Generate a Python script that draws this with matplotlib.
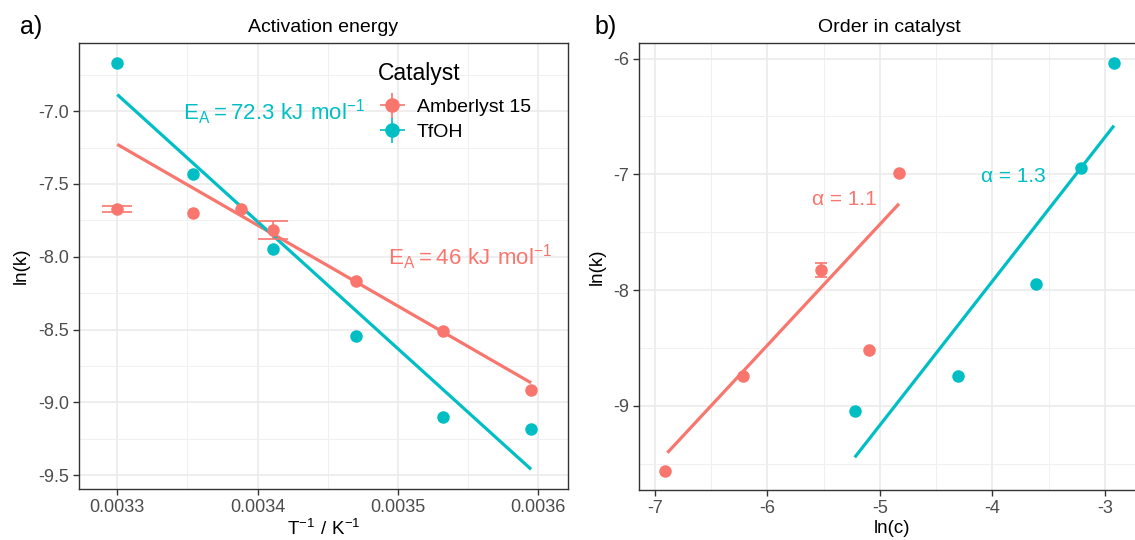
import matplotlib
matplotlib.use("Agg")
import matplotlib.pyplot as plt
from matplotlib.lines import Line2D
from matplotlib.ticker import FixedLocator, MultipleLocator
import numpy as np

plt.rcParams['font.family'] = ['Liberation Sans', 'DejaVu Sans']
plt.rcParams['axes.unicode_minus'] = False

# ---------------- data ----------------
# Panel a: activation energy
invT_amb = [0.0033, 0.003354, 0.003388, 0.003411, 0.00347, 0.003532, 0.003595]
lnk_amb = [-7.671, -7.696, -7.673, -7.817, -8.167, -8.512, -8.917]
err_amb = [0.018, 0.0, 0.0, 0.06, 0.0, 0.0, 0.0]
invT_tf = [0.0033, 0.003354, 0.003411, 0.00347, 0.003532, 0.003595]
lnk_tf = [-6.671, -7.429, -7.943, -8.542, -9.098, -9.180]
fit_invT = [0.0033, 0.003595]
fit_lnk_amb = [-7.228, -8.865]
fit_lnk_tf = [-6.886, -9.459]
ea_labels = ["72.3", "46"]

# Panel b: order in catalyst
lnc_amb = [-6.908, -6.215, -5.521, -5.10, -4.828]
lnk2_amb = [-9.566, -8.741, -7.825, -8.517, -6.986]
err2_amb = [0.0, 0.0, 0.06, 0.0, 0.0]
lnc_tf = [-5.223, -4.306, -3.612, -3.210, -2.921]
lnk2_tf = [-9.043, -8.739, -7.945, -6.942, -6.037]
fit_lnc_amb = [-6.887, -4.830]
fit_lnk2_amb = [-9.405, -7.254]
fit_lnc_tf = [-5.223, -2.921]
fit_lnk2_tf = [-9.445, -6.579]
alpha_labels = ["1.1", "1.3"]

catalysts = ["Amberlyst 15", "TfOH"]
colors = ["#F8766D", "#00BFC4"]

xticks_a = [0.0033, 0.0034, 0.0035, 0.0036]
xticklabels_a = ["0.0033", "0.0034", "0.0035", "0.0036"]
yticks_a = [-7.0, -7.5, -8.0, -8.5, -9.0, -9.5]
yticklabels_a = ["-7.0", "-7.5", "-8.0", "-8.5", "-9.0", "-9.5"]
xticks_b = [-7, -6, -5, -4, -3]
xticklabels_b = ["-7", "-6", "-5", "-4", "-3"]
yticks_b = [-6, -7, -8, -9]
yticklabels_b = ["-6", "-7", "-8", "-9"]

# ---------------- figure ----------------
W, H = 1135, 540
fig = plt.figure(figsize=(W / 100, H / 100), dpi=100)

def px_axes(l, t, r, b):
    return fig.add_axes([l / W, 1 - b / H, (r - l) / W, (b - t) / H])

ax1 = px_axes(79, 43, 568, 489)
ax2 = px_axes(639, 43, 1140, 490)

def style(ax):
    ax.set_facecolor("white")
    for s in ax.spines.values():
        s.set_color("#333333")
        s.set_linewidth(1.0)
    ax.grid(which="major", color="#EBEBEB", lw=1.2, zorder=0)
    ax.grid(which="minor", color="#F0F0F0", lw=0.7, zorder=0)
    ax.set_axisbelow(True)
    ax.tick_params(which="major", length=4, width=1.0, color="#333333",
                   labelcolor="#4D4D4D", labelsize=13, pad=3)
    ax.tick_params(which="minor", length=0)

style(ax1)
style(ax2)

ms = 9
lw = 2.3

# Panel a
mask = np.array(err_amb) > 0
ax1.errorbar(np.array(invT_amb)[mask], np.array(lnk_amb)[mask], yerr=np.array(err_amb)[mask],
             fmt="none", ecolor=colors[0], elinewidth=1.2, capsize=10.5, capthick=1.2, zorder=3)
ax1.plot(fit_invT, fit_lnk_amb, color=colors[0], lw=lw, zorder=2, solid_capstyle="butt")
ax1.plot(fit_invT, fit_lnk_tf, color=colors[1], lw=lw, zorder=2, solid_capstyle="butt")
ax1.plot(invT_amb, lnk_amb, "o", color=colors[0], ms=ms, mew=0, zorder=4)
ax1.plot(invT_tf, lnk_tf, "o", color=colors[1], ms=ms, mew=0, zorder=4)

ax1.set_xlim(0.0032727, 0.0036213)
ax1.set_ylim(-9.594, -6.532)
ax1.xaxis.set_major_locator(FixedLocator(xticks_a))
ax1.set_xticklabels(xticklabels_a)
ax1.yaxis.set_major_locator(FixedLocator(yticks_a))
ax1.set_yticklabels(yticklabels_a)
ax1.xaxis.set_minor_locator(MultipleLocator(0.00005))
ax1.yaxis.set_minor_locator(MultipleLocator(0.25))

ax1.text(0.0033467, -7.06, r"$\mathregular{E_A = " + ea_labels[0] + r"\ kJ\ mol^{-1}}$",
         color=colors[1], fontsize=16, ha="left", va="baseline", zorder=5)
ax1.text(0.003493, -8.057, r"$\mathregular{E_A = " + ea_labels[1] + r"\ kJ\ mol^{-1}}$",
         color=colors[0], fontsize=16, ha="left", va="baseline", zorder=5)

ax1.set_title("Activation energy", fontsize=14, color="black", pad=8)
ax1.set_xlabel(r"$\mathregular{T^{-1}\ /\ K^{-1}}$", fontsize=13.5)
ax1.set_ylabel("ln(k)", fontsize=13.5)
ax1.xaxis.set_label_coords(0.5, -0.068)
ax1.yaxis.set_label_coords(-0.10, 0.5)

# legend
handles = []
for c in colors:
    h_cross = Line2D([], [], marker="+", ms=18, mew=1.2, color=c, ls="none")
    h_pt = Line2D([], [], marker="o", ms=ms + 1.5, mew=0, color=c, ls="none")
    handles.append((h_cross, h_pt))
leg = ax1.legend(handles, catalysts, title="Catalyst", loc="upper left",
                 bbox_to_anchor=((368 - 79) / 489, 1 - (52 - 43) / 446),
                 frameon=False, fontsize=14, title_fontsize=16.5, alignment="left",
                 borderpad=0, handlelength=1.45, handletextpad=0.55, labelspacing=0.38)
leg._legend_box.sep = 10

# Panel b
mask2 = np.array(err2_amb) > 0
ax2.errorbar(np.array(lnc_amb)[mask2], np.array(lnk2_amb)[mask2], yerr=np.array(err2_amb)[mask2],
             fmt="none", ecolor=colors[0], elinewidth=1.2, capsize=4.5, capthick=1.2, zorder=3)
ax2.plot(fit_lnc_amb, fit_lnk2_amb, color=colors[0], lw=lw, zorder=2, solid_capstyle="butt")
ax2.plot(fit_lnc_tf, fit_lnk2_tf, color=colors[1], lw=lw, zorder=2, solid_capstyle="butt")
ax2.plot(lnc_amb, lnk2_amb, "o", color=colors[0], ms=ms, mew=0, zorder=4)
ax2.plot(lnc_tf, lnk2_tf, "o", color=colors[1], ms=ms, mew=0, zorder=4)

ax2.set_xlim(-7.139, -2.69)
ax2.set_ylim(-9.727, -5.865)
ax2.xaxis.set_major_locator(FixedLocator(xticks_b))
ax2.set_xticklabels(xticklabels_b)
ax2.yaxis.set_major_locator(FixedLocator(yticks_b))
ax2.set_yticklabels(yticklabels_b)
ax2.xaxis.set_minor_locator(MultipleLocator(0.5))
ax2.yaxis.set_minor_locator(MultipleLocator(0.5))

ax2.text(-5.606, -7.268, "α = " + alpha_labels[0], color=colors[0], fontsize=15,
         ha="left", va="baseline", zorder=5)
ax2.text(-4.099, -7.066, "α = " + alpha_labels[1], color=colors[1], fontsize=15,
         ha="left", va="baseline", zorder=5)

ax2.set_title("Order in catalyst", fontsize=14, color="black", pad=8)
ax2.set_xlabel("ln(c)", fontsize=13.5)
ax2.set_ylabel("ln(k)", fontsize=13.5)
ax2.xaxis.set_label_coords((892 - 639) / 501, -0.068)
ax2.yaxis.set_label_coords(-0.066, 0.5)

fig.text(20 / W, 1 - 27 / H, "a)", fontsize=18, ha="left", va="center")
fig.text(594 / W, 1 - 27 / H, "b)", fontsize=18, ha="left", va="center")

fig.savefig("out.png", dpi=100, facecolor="white")
